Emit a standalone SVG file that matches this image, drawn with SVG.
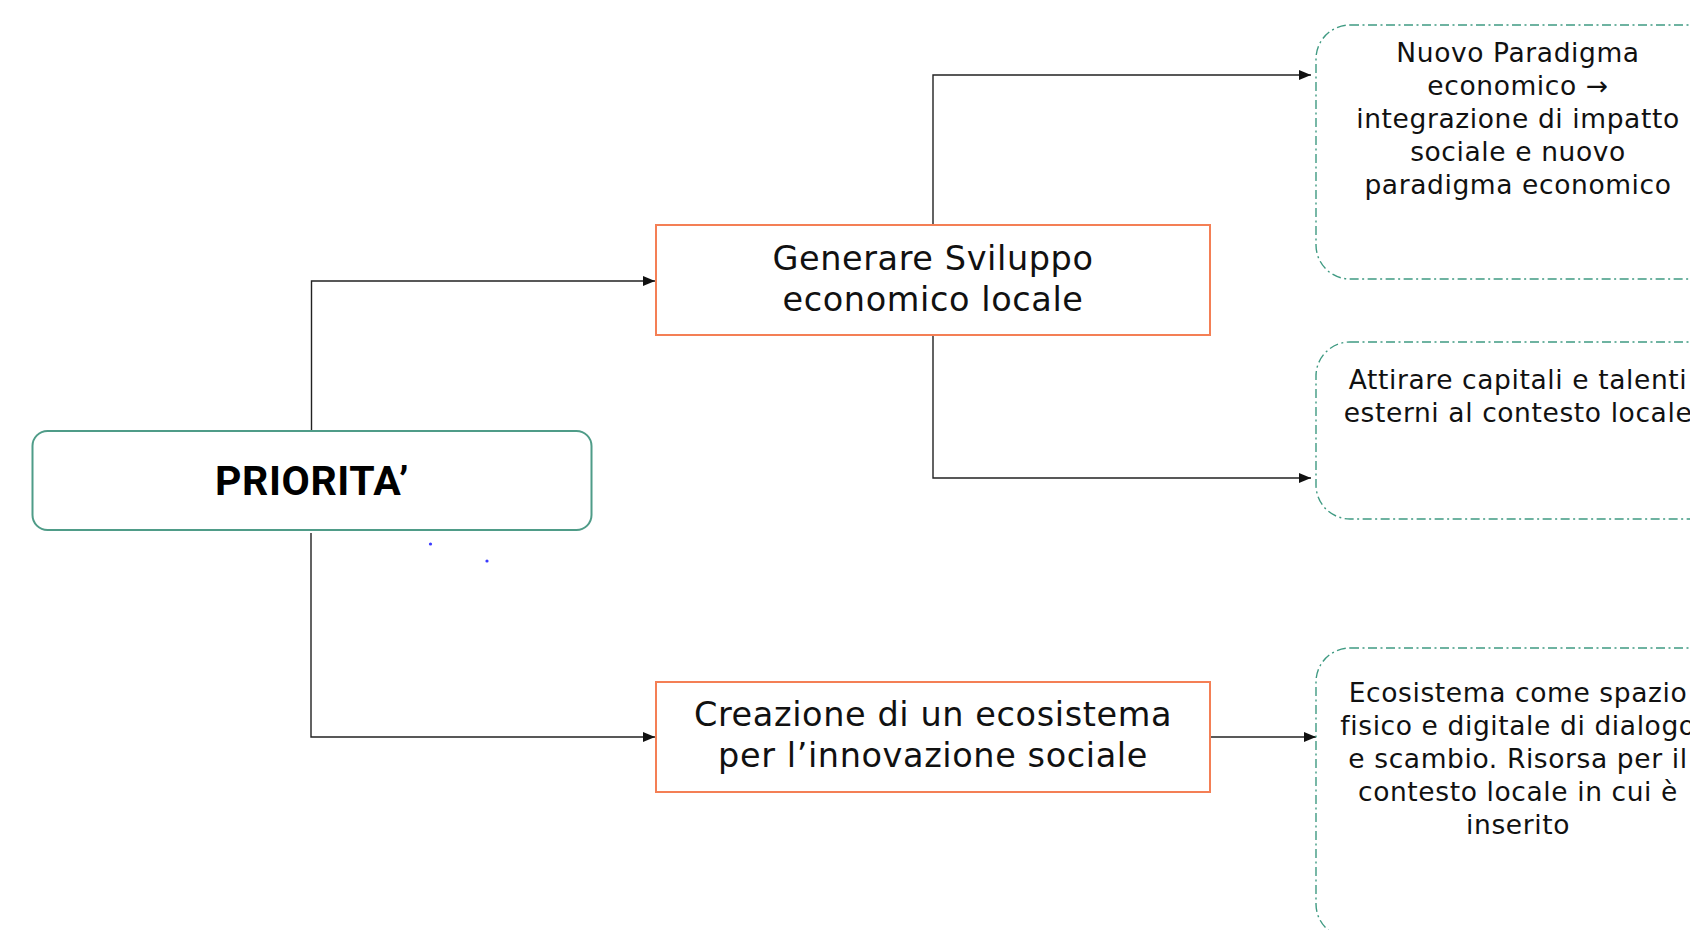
<svg xmlns="http://www.w3.org/2000/svg" width="1690" height="930" viewBox="0 0 1690 930">
<style>
.bg{fill:#ffffff}
.root{fill:#ffffff;stroke:#4f9c88;stroke-width:2}
.mid{fill:#ffffff;stroke:#f47f55;stroke-width:2}
.leaf{fill:#ffffff;stroke:#3f9a82;stroke-width:1.4;stroke-dasharray:9 3.5 2 3.5}
.conn{fill:none;stroke:#222222;stroke-width:1.4}
.t-root{font-family:Roboto,"Liberation Sans",sans-serif;font-weight:700;font-size:41px;letter-spacing:0.6px;fill:#000000;text-anchor:middle}
.t-mid{font-family:"DejaVu Sans","Liberation Sans",sans-serif;font-size:33.5px;letter-spacing:0.6px;fill:#111111;text-anchor:middle}
.t-leaf{font-family:"DejaVu Sans","Liberation Sans",sans-serif;font-size:26.5px;letter-spacing:0.6px;fill:#111111;text-anchor:middle}
</style>
<defs>
<marker id="arr" markerUnits="userSpaceOnUse" markerWidth="12" markerHeight="10" refX="12" refY="5" orient="auto">
<path d="M0,0 L12,5 L0,10 Z" fill="#111111"/>
</marker>
</defs>
<rect class="bg" x="0" y="0" width="1690" height="930"/>
<g id="connectors">
<path class="conn" d="M311.5 431 V281 H655" marker-end="url(#arr)"/>
<path class="conn" d="M311 533 V737 H655" marker-end="url(#arr)"/>
<path class="conn" d="M933 224 V75 H1311" marker-end="url(#arr)"/>
<path class="conn" d="M933 336 V478 H1311" marker-end="url(#arr)"/>
<path class="conn" d="M1211 737 H1316" marker-end="url(#arr)"/>
</g>
<g id="node-priorita">
<rect class="root" x="32.5" y="431" width="559" height="99" rx="15"/>
<text class="t-root" x="312" y="495">PRIORITA’</text>
</g>
<g id="node-generare">
<rect class="mid" x="656" y="225" width="554" height="110"/>
<text class="t-mid" x="933" y="270">Generare Sviluppo</text>
<text class="t-mid" x="933" y="311">economico locale</text>
</g>
<g id="node-creazione">
<rect class="mid" x="656" y="682" width="554" height="110"/>
<text class="t-mid" x="933" y="726">Creazione di un ecosistema</text>
<text class="t-mid" x="933" y="767">per l’innovazione sociale</text>
</g>
<g id="node-paradigma">
<rect class="leaf" x="1316" y="25" width="520" height="254" rx="34"/>
<text class="t-leaf" x="1518" y="62">Nuovo Paradigma</text>
<text class="t-leaf" x="1518" y="95">economico →</text>
<text class="t-leaf" x="1518" y="128">integrazione di impatto</text>
<text class="t-leaf" x="1518" y="161">sociale e nuovo</text>
<text class="t-leaf" x="1518" y="194">paradigma economico</text>
</g>
<g id="node-attirare">
<rect class="leaf" x="1316" y="342" width="520" height="177" rx="34"/>
<text class="t-leaf" x="1518" y="389">Attirare capitali e talenti</text>
<text class="t-leaf" x="1518" y="422">esterni al contesto locale</text>
</g>
<g id="node-ecosistema">
<rect class="leaf" x="1316" y="648" width="520" height="290" rx="34"/>
<text class="t-leaf" x="1518" y="702">Ecosistema come spazio</text>
<text class="t-leaf" x="1518" y="735">fisico e digitale di dialogo</text>
<text class="t-leaf" x="1518" y="768">e scambio. Risorsa per il</text>
<text class="t-leaf" x="1518" y="801">contesto locale in cui è</text>
<text class="t-leaf" x="1518" y="834">inserito</text>
</g>
<circle cx="430.5" cy="544" r="1.6" fill="#3a3aff"/>
<circle cx="487" cy="561" r="1.6" fill="#3a3aff"/>
</svg>
